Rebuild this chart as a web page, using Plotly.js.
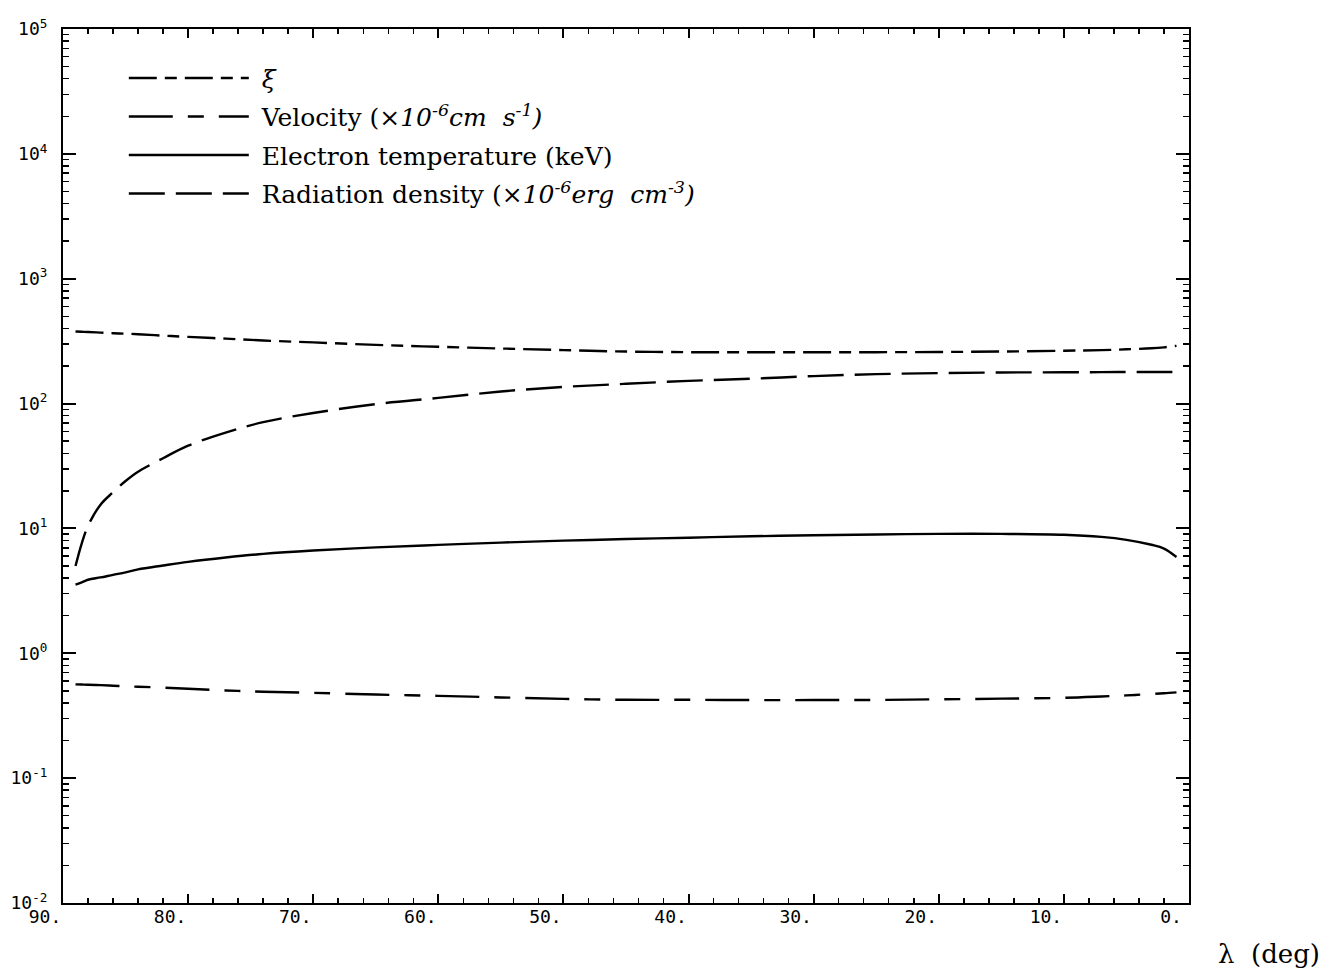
<!DOCTYPE html>
<html>
<head>
<meta charset="utf-8">
<script src="https://cdn.plot.ly/plotly-3.0.1.min.js"></script>
<style>html,body{margin:0;padding:0;background:#fff;}#chart{width:1339px;height:974px;}</style>
</head>
<body>
<div id="chart"></div>
<script>
// latitude lambda (deg)
const lambda = [89, 88.5, 88, 87, 86, 85, 84, 82, 80, 77, 74, 70, 65, 60, 55, 50, 45, 40, 35, 30, 25, 20, 15, 10, 7, 5, 3, 2, 1];
// xi
const xi = [378, 376, 374, 370, 366, 363, 359, 350, 342, 331, 320, 309, 295, 285, 276, 268, 261, 258, 258, 258, 258, 259, 261, 265, 268, 272, 277, 282, 290];
// velocity (x1e-6 cm/s)
const velocity = [0.564, 0.562, 0.560, 0.556, 0.550, 0.544, 0.540, 0.531, 0.520, 0.504, 0.492, 0.482, 0.467, 0.456, 0.443, 0.431, 0.424, 0.424, 0.422, 0.422, 0.423, 0.428, 0.433, 0.440, 0.451, 0.460, 0.472, 0.478, 0.486];
// electron temperature (keV)
const electronTemp = [3.55, 3.7, 3.88, 4.05, 4.25, 4.45, 4.7, 5.05, 5.4, 5.85, 6.25, 6.65, 7.05, 7.38, 7.7, 7.98, 8.22, 8.43, 8.65, 8.82, 8.95, 9.04, 9.04, 8.9, 8.55, 8.1, 7.4, 6.9, 5.9];
// radiation density (x1e-6 erg/cm3)
const radDensity = [5.0, 7.6, 10.5, 15.5, 19.5, 24, 28.5, 36.5, 46, 58.5, 71, 84, 99, 111, 125, 136, 144, 152, 158, 166, 172, 175.5, 177.5, 178, 178.5, 179, 179, 179, 179];

const pad = '\u00a0';
const seriesNames = [
  pad + '<i>ξ</i>',
  pad + 'Velocity (<i>×10<sup>-6</sup>cm  s<sup>-1</sup>)</i>',
  pad + 'Electron temperature (keV)',
  pad + 'Radiation density (<i>×10<sup>-6</sup>erg  cm<sup>-3</sup>)</i>'
];
const xTickVals = [90, 80, 70, 60, 50, 40, 30, 20, 10, 0];
const xTickText = ['90.', '80.', '70.', '60.', '50.', '40.', '30.', '20.', '10.', '0.'];
const yTickVals = [1e-2, 1e-1, 1e0, 1e1, 1e2, 1e3, 1e4, 1e5];
const yTickText = ['10<sup>-2</sup>', '10<sup>-1</sup>', '10<sup>0</sup>', '10<sup>1</sup>', '10<sup>2</sup>', '10<sup>3</sup>', '10<sup>4</sup>', '10<sup>5</sup>'];

const lw = 2.4;
const traces = [
  {x: lambda, y: xi, name: seriesNames[0], legendgroup: 'a', line: {color: '#000', width: lw, dash: '28px,8px,12px,8px'}},
  {x: lambda, y: velocity, name: seriesNames[1], legendgroup: 'b', line: {color: '#000', width: lw, dash: '44px,15px,16px,15px'}},
  {x: lambda, y: electronTemp, name: seriesNames[2], legendgroup: 'c', line: {color: '#000', width: lw, dash: 'solid'}},
  {x: lambda, y: radDensity, name: seriesNames[3], legendgroup: 'd', line: {color: '#000', width: lw, dash: '36px,11px'}}
].map(t => { t.type = 'scatter'; t.mode = 'lines'; t.line.shape = 'spline'; return t; });

const tickFont = {family: 'DejaVu Sans Mono', size: 18, color: '#000'};
const layout = {
  width: 1339, height: 974,
  margin: {l: 63, r: 150, t: 29, b: 71},
  paper_bgcolor: '#fff', plot_bgcolor: '#fff',
  showlegend: true,
  legend: {
    x: 0.054, y: 0.970, xanchor: 'left', yanchor: 'top',
    bgcolor: 'rgba(0,0,0,0)', borderwidth: 0,
    font: {family: 'DejaVu Serif', size: 25, color: '#000'},
    itemwidth: 120, tracegroupgap: 3, traceorder: 'grouped'
  },
  xaxis: {
    range: [90, 0], autorange: false,
    showgrid: false, zeroline: false,
    showline: true, linecolor: '#000', linewidth: 2, mirror: 'ticks',
    ticks: 'inside', ticklen: 9, tickwidth: 2, tickcolor: '#000',
    tickvals: xTickVals, ticktext: xTickText,
    tickfont: tickFont, ticklabelshift: 18, ticklabelstandoff: -4,
    minor: {ticks: 'inside', ticklen: 5, tickwidth: 1.5, tickcolor: '#000', dtick: 2, showgrid: false}
  },
  yaxis: {
    type: 'log', range: [-2, 5], autorange: false,
    showgrid: false, zeroline: false,
    showline: true, linecolor: '#000', linewidth: 2, mirror: 'ticks',
    ticks: 'inside', ticklen: 13, tickwidth: 2, tickcolor: '#000',
    tickvals: yTickVals, ticktext: yTickText,
    tickfont: tickFont, ticklabelstandoff: 10,
    minor: {ticks: 'inside', ticklen: 6, tickwidth: 1.5, tickcolor: '#000', dtick: 'D1', showgrid: false}
  },
  annotations: [{
    xref: 'paper', yref: 'paper', x: 1.071, y: -0.078, xanchor: 'center', yanchor: 'bottom',
    text: 'λ\u00a0\u00a0(deg)', showarrow: false,
    font: {family: 'DejaVu Serif', size: 26, color: '#000'}
  }]
};
Plotly.newPlot('chart', traces, layout, {staticPlot: true, displayModeBar: false});
</script>
</body>
</html>
